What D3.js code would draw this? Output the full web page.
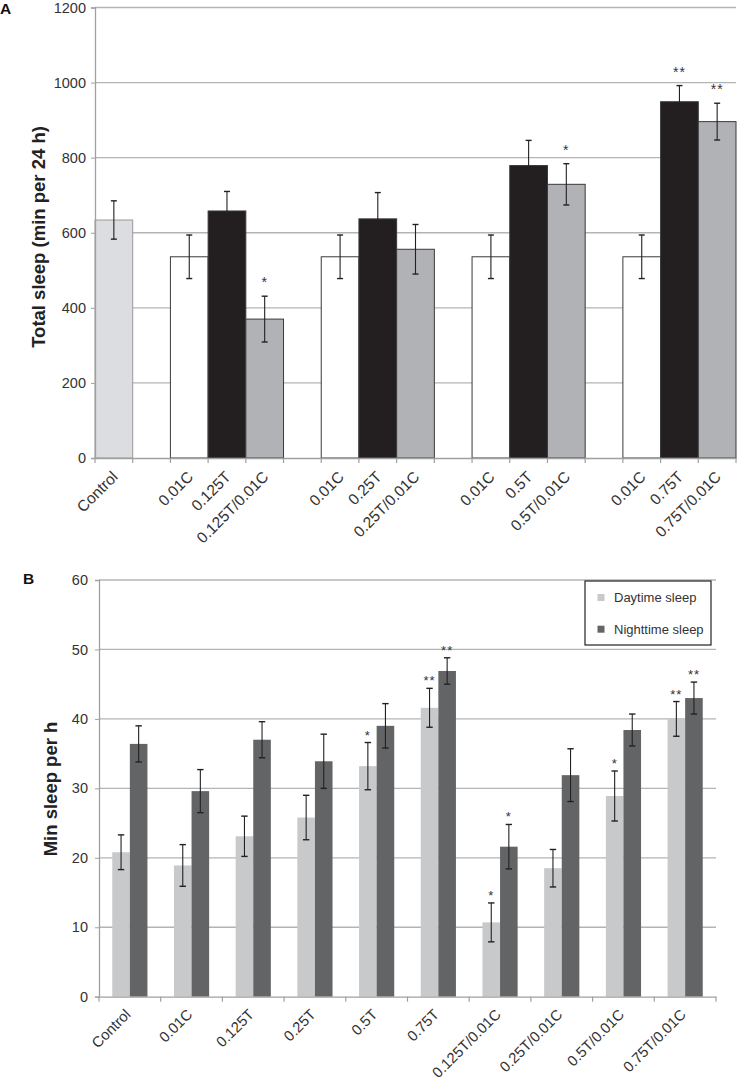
<!DOCTYPE html>
<html><head><meta charset="utf-8">
<script src="https://cdn.jsdelivr.net/npm/d3@7"></script>
<style>body{margin:0;background:#fff;} text{font-family:"Liberation Sans",Arial,sans-serif;}</style>
</head><body>
<svg id="chart" width="737" height="1083"></svg>
<script>
// ---------- Panel A data ----------
const aLabels = ["Control","","0.01C","0.125T","0.125T/0.01C","","0.01C","0.25T","0.25T/0.01C","","0.01C","0.5T","0.5T/0.01C","","0.01C","0.75T","0.75T/0.01C"];
const aValues = [634,null,536,658,370,null,536,637,556,null,536,779,729,null,536,949,896];
const aErrors = [51,null,58,52,61,null,58,70,66,null,58,67,55,null,58,43,49];
const aTypes  = ["ctrl",null,"C","T","TC",null,"C","T","TC",null,"C","T","TC",null,"C","T","TC"];
const aSig    = ["","","","","*","","","","","","","","*","","","**","**"];
const aTicks  = [0,200,400,600,800,1000,1200];

// ---------- Panel B data ----------
const bCategories = ["Control","0.01C","0.125T","0.25T","0.5T","0.75T","0.125T/0.01C","0.25T/0.01C","0.5T/0.01C","0.75T/0.01C"];
const bDay      = [20.8,18.9,23.1,25.8,33.2,41.6,10.7,18.5,28.9,40.0];
const bDayErr   = [2.5,3.0,2.9,3.2,3.4,2.8,2.8,2.7,3.6,2.5];
const bNight    = [36.4,29.6,37.0,33.9,39.0,46.9,21.6,31.9,38.4,43.0];
const bNightErr = [2.6,3.1,2.6,3.9,3.2,1.9,3.2,3.8,2.3,2.3];
const bDaySig   = ["","","","","*","**","*","","*","**"];
const bNightSig = ["","","","","","**","*","","","**"];
const bTicks    = [0,10,20,30,40,50,60];
const bSeries   = ["Daytime sleep","Nighttime sleep"];

const svg = d3.select("#chart");
const gridCol = "#b4b4b4", axisCol = "#a0a0a0", textCol = "#333";

// ================= PANEL A =================
{
  const left = 95, right = 736, top = 7.5, bottom = 458;
  const x = d3.scaleBand().domain(d3.range(aLabels.length)).range([left, right]).padding(0);
  const y = d3.scaleLinear().domain([0,1200]).range([bottom, top]);
  const g = svg.append("g");

  g.selectAll("line.grid").data(aTicks.filter(t=>t>0)).join("line")
    .attr("x1", left).attr("x2", right).attr("y1", d=>y(d)).attr("y2", d=>y(d))
    .attr("stroke", gridCol).attr("stroke-width", 1.3);

  const fill = {ctrl:"#dcdde0", C:"#ffffff", T:"#231f20", TC:"#b1b2b5"};
  const idx = d3.range(aLabels.length).filter(i=>aValues[i]!==null);
  g.selectAll("rect.bar").data(idx).join("rect")
    .attr("x", i=>x(i)).attr("width", x.bandwidth())
    .attr("y", i=>y(aValues[i])).attr("height", i=>y(0)-y(aValues[i]))
    .attr("fill", i=>fill[aTypes[i]])
    .attr("stroke", i=>aTypes[i]==="ctrl" ? "#9a9a9a" : "#3a3a3a").attr("stroke-width", 1);

  const eb = g.selectAll("g.eb").data(idx).join("g");
  eb.append("line").attr("x1", i=>x(i)+x.bandwidth()/2).attr("x2", i=>x(i)+x.bandwidth()/2)
    .attr("y1", i=>y(aValues[i]+aErrors[i])).attr("y2", i=>y(aValues[i]-aErrors[i]))
    .attr("stroke", "#222").attr("stroke-width", 1.1);
  [1,-1].forEach(s=>{
    eb.append("line").attr("x1", i=>x(i)+x.bandwidth()/2-3).attr("x2", i=>x(i)+x.bandwidth()/2+3)
      .attr("y1", i=>y(aValues[i]+s*aErrors[i])).attr("y2", i=>y(aValues[i]+s*aErrors[i]))
      .attr("stroke", "#222").attr("stroke-width", 1.4);
  });
  g.selectAll("text.sig").data(idx.filter(i=>aSig[i])).join("text")
    .attr("x", i=>x(i)+x.bandwidth()/2).attr("y", i=>y(aValues[i]+aErrors[i])-9)
    .attr("text-anchor","middle").attr("font-size",14).attr("letter-spacing",1).attr("fill","#333")
    .text(i=>aSig[i]);

  const ya = d3.axisLeft(y).tickValues(aTicks).tickSize(4).tickPadding(5).tickFormat(d3.format("d"));
  const yg = g.append("g").attr("transform",`translate(${left},0)`).call(ya);
  yg.select(".domain").attr("stroke", axisCol).attr("stroke-width",1.3);
  yg.selectAll(".tick line").attr("stroke", axisCol);
  yg.selectAll(".tick text").attr("font-size",14.5).attr("fill",textCol).attr("font-family","Liberation Sans, Arial");

  const xa = d3.axisBottom(x).tickSize(0).tickFormat(i=>aLabels[i]);
  const xg = g.append("g").attr("transform",`translate(0,${bottom})`).call(xa);
  xg.select(".domain").attr("stroke", axisCol).attr("stroke-width",1.3);
  xg.selectAll(".tick text").attr("font-size",15.5).attr("fill",textCol).attr("font-family","Liberation Sans, Arial")
    .attr("text-anchor","end").attr("transform","translate(1,16) rotate(-45)").attr("dy","0.35em").attr("y",0);
  g.selectAll("line.bt").data(d3.range(aLabels.length+1)).join("line")
    .attr("x1", i=>left+i*x.step()).attr("x2", i=>left+i*x.step())
    .attr("y1", bottom).attr("y2", bottom+5).attr("stroke", axisCol).attr("stroke-width",1.2);

  svg.append("text").attr("transform",`translate(45,237) rotate(-90)`)
    .attr("text-anchor","middle").attr("font-size",18.5).attr("font-weight","bold").attr("fill","#222")
    .text("Total sleep (min per 24 h)");
  svg.append("text").attr("x",0).attr("y",13.5).attr("font-size",15.5).attr("font-weight","bold").attr("fill","#111").text("A");
}

// ================= PANEL B =================
{
  const left = 99, right = 716, top = 580, bottom = 996.7;
  const x = d3.scaleBand().domain(bCategories).range([left, right]).padding(0);
  const bw = x.bandwidth()*0.285;
  const y = d3.scaleLinear().domain([0,60]).range([bottom, top]);
  const g = svg.append("g");
  g.selectAll("line.grid").data(bTicks.filter(t=>t>0)).join("line")
    .attr("x1", left).attr("x2", right).attr("y1", d=>y(d)).attr("y2", d=>y(d))
    .attr("stroke", gridCol).attr("stroke-width", 1.3);

  const cols = ["#c8c9cb","#636466"];
  const series = [
    {vals:bDay, errs:bDayErr, sig:bDaySig, off:-1},
    {vals:bNight, errs:bNightErr, sig:bNightSig, off:0}
  ];
  series.forEach((s,si)=>{
    const cx = c => x(c)+x.bandwidth()/2 + s.off*bw;
    g.selectAll(null).data(bCategories).join("rect")
      .attr("x", c=>cx(c)).attr("width", bw)
      .attr("y", (c,i)=>y(s.vals[i])).attr("height",(c,i)=>y(0)-y(s.vals[i]))
      .attr("fill", cols[si]);
    const mid = c => cx(c)+bw/2;
    g.selectAll(null).data(bCategories).join("line")
      .attr("x1", mid).attr("x2", mid)
      .attr("y1",(c,i)=>y(s.vals[i]+s.errs[i])).attr("y2",(c,i)=>y(s.vals[i]-s.errs[i]))
      .attr("stroke","#222").attr("stroke-width",1.1);
    [1,-1].forEach(sg=>{
      g.selectAll(null).data(bCategories).join("line")
        .attr("x1", c=>mid(c)-3.2).attr("x2", c=>mid(c)+3.2)
        .attr("y1",(c,i)=>y(s.vals[i]+sg*s.errs[i])).attr("y2",(c,i)=>y(s.vals[i]+sg*s.errs[i]))
        .attr("stroke","#222").attr("stroke-width",1.4);
    });
    g.selectAll(null).data(bCategories.filter((c,i)=>s.sig[i])).join("text")
      .attr("x", mid).attr("y", c=>{const i=bCategories.indexOf(c); return y(s.vals[i]+s.errs[i])-3;})
      .attr("text-anchor","middle").attr("font-size",13).attr("letter-spacing",1).attr("fill","#333")
      .text(c=>s.sig[bCategories.indexOf(c)]);
  });

  const ya = d3.axisLeft(y).tickValues(bTicks).tickSize(4).tickPadding(7);
  const yg = g.append("g").attr("transform",`translate(${left},0)`).call(ya);
  yg.select(".domain").attr("stroke", axisCol).attr("stroke-width",1.3);
  yg.selectAll(".tick line").attr("stroke", axisCol);
  yg.selectAll(".tick text").attr("font-size",14.5).attr("fill",textCol).attr("font-family","Liberation Sans, Arial");

  const xa = d3.axisBottom(x).tickSize(0);
  const xg = g.append("g").attr("transform",`translate(0,${bottom})`).call(xa);
  xg.select(".domain").attr("stroke", axisCol).attr("stroke-width",1.3);
  xg.selectAll(".tick text").attr("font-size",14.8).attr("fill",textCol).attr("font-family","Liberation Sans, Arial")
    .attr("text-anchor","end").attr("transform","translate(-2,15) rotate(-45)").attr("dy","0.35em").attr("y",0);
  g.selectAll("line.bt").data(d3.range(bCategories.length+1)).join("line")
    .attr("x1", i=>left+i*x.step()).attr("x2", i=>left+i*x.step())
    .attr("y1", bottom).attr("y2", bottom+5).attr("stroke", axisCol).attr("stroke-width",1.2);

  const lg = svg.append("g");
  lg.append("rect").attr("x",585).attr("y",581).attr("width",126).attr("height",64)
    .attr("fill","#fff").attr("stroke","#333").attr("stroke-width",1.3);
  bSeries.forEach((name,i)=>{
    const cy = 597.5 + i*31.7;
    lg.append("rect").attr("x",597.5).attr("y",cy-3.5).attr("width",7).attr("height",7).attr("fill",cols[i]);
    lg.append("text").attr("x",614).attr("y",cy).attr("dy","0.35em").attr("font-size",13).attr("fill","#333").text(name);
  });

  svg.append("text").attr("transform",`translate(56.5,789) rotate(-90)`)
    .attr("text-anchor","middle").attr("font-size",18.5).attr("font-weight","bold").attr("fill","#222")
    .text("Min sleep per h");
  svg.append("text").attr("x",23).attr("y",584).attr("font-size",15.5).attr("font-weight","bold").attr("fill","#111").text("B");
}
</script>
</body></html>
